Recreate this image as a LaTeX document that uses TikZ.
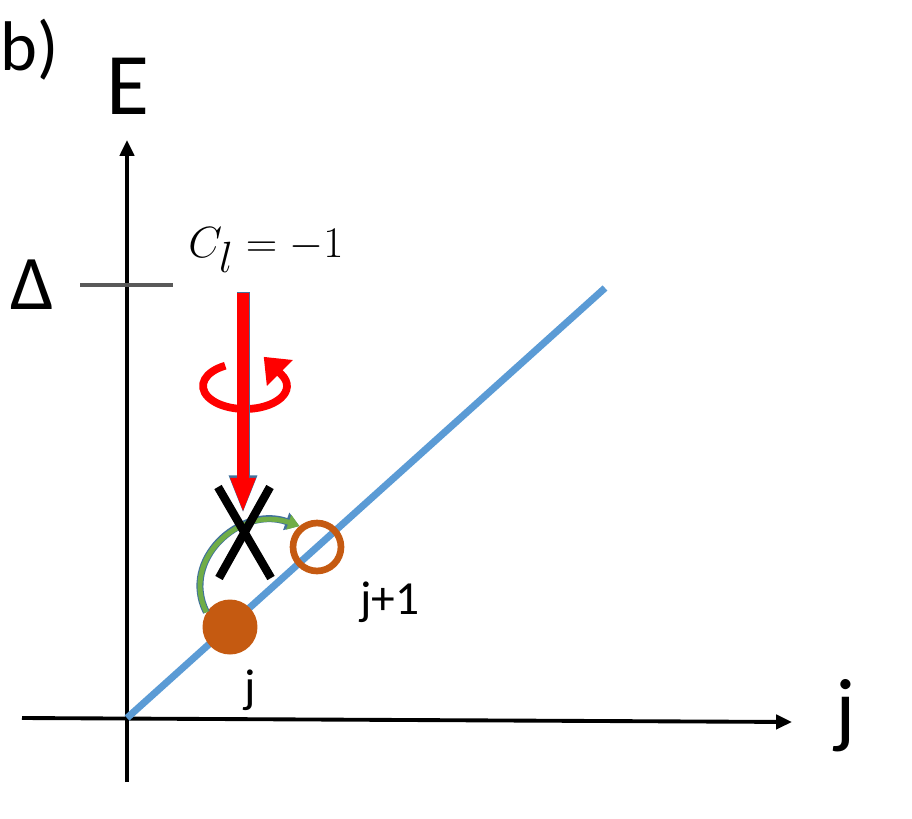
\documentclass[tikz,border=0pt]{standalone}
\usepackage{fontspec}
\setmainfont{Carlito}
\usepackage{tikz}
\usetikzlibrary{arrows.meta, calc}
\definecolor{ink}{HTML}{000000}
\definecolor{band}{HTML}{5B9BD5}
\definecolor{rust}{HTML}{C55A11}
\definecolor{leaf}{HTML}{70AD47}
\definecolor{edge}{HTML}{41719C}
\definecolor{tick}{HTML}{595959}
\tikzset{
  axis/.style={ink, line width=2.2pt, -{Triangle[width=8pt,length=9pt]}},
  big/.style={inner sep=0pt, font=\fontsize{#1}{#1}\selectfont},
  occ/.style={circle, fill=rust, minimum size=1.1cm, inner sep=0pt},
  hole/.style={circle, draw=rust, line width=3.8pt, minimum size=0.96cm, inner sep=0pt},
}
\begin{document}
\begin{tikzpicture}[x=0.02cm, y=-0.02cm]
  \useasboundingbox (0,0) rectangle (912,818);
  % axes
  \coordinate (o) at (127,718);
  \coordinate (ytop) at (127,140);
  \coordinate (ybot) at (127,782);
  \coordinate (xl) at (22,718);
  \coordinate (xr) at (792,722);
  \draw[axis] (ybot) -- (ytop);
  \draw[axis] (xl) -- (xr);
  \node[big=50] (elab) at (128,86) {E};
  \node[big=48] (jlab) at (846,716) {j};
  \node[big=40] (tag) at (30,50) {b)};
  % gap level
  \coordinate (tl) at (80,285);
  \coordinate (tr) at (173,285);
  \draw[tick, line width=2pt] (tl) -- (tr);
  \node[big=44] (delta) at (32,285) {Δ};
  \node[big=33] (cl) at (266,250) {$C_l = -1$};
  % linear band
  \coordinate (bend) at (605,288);
  \draw[band, line width=4pt] (o) -- (bend);
  \node[occ] (jdot) at (230,627) {};
  \node[hole] (jnext) at (317,547) {};
  \node[big=27] (jname) at (250,690) {j};
  \node[big=27] (jnname) at (390,602) {j+1};
  % rotation and pump
  \coordinate (rot) at (245,386);
  \draw[red, line width=4.4pt, -{Triangle[width=20pt,length=13pt]}]
    ($(rot)+(118:0.84cm and 0.46cm)$) arc[start angle=118, end angle=390, x radius=0.84cm, y radius=0.46cm]
    -- ++(135:0.5cm);
  \coordinate (ptop) at (243,292);
  \coordinate (ptip) at (243,514);
  \draw[edge, line width=7.4pt, -{Triangle[width=14.5pt,length=22pt]}] (ptop) -- (ptip);
  \draw[red, line width=6.4pt, -{Triangle[width=13pt,length=20pt]}] ($(ptop)+(0,1)$) -- ($(ptip)+(0,-1)$);
  % blocked hop
  \draw[edge, line width=4pt, -{Triangle[width=10pt,length=8pt]}]
    (jdot.148) .. controls (180,560) and (240,505) .. (jnext.130);
  \draw[leaf, line width=2.8pt, -{Triangle[width=8.5pt,length=6.5pt]}]
    (jdot.148) .. controls (180,560) and (240,505) .. (jnext.130);
  \coordinate (xa) at (218,487);
  \coordinate (xb) at (271,578);
  \coordinate (xc) at (270,487);
  \coordinate (xd) at (219,578);
  \draw[ink, line width=4.8pt] (xa) -- (xb);
  \draw[ink, line width=4.8pt] (xc) -- (xd);
\end{tikzpicture}
\end{document}
